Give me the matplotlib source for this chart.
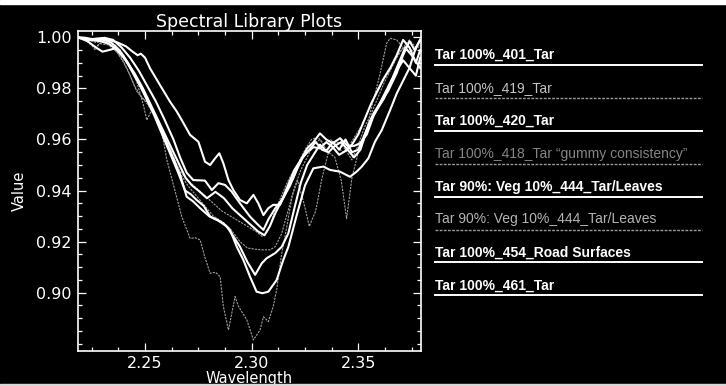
import matplotlib
matplotlib.use("Agg")
import matplotlib.pyplot as plt
from matplotlib.lines import Line2D
from matplotlib.patches import Rectangle
from matplotlib.ticker import MultipleLocator, FixedLocator, FormatStrFormatter

# ---- spectra (wavelength in micrometres, relative value) ----
wl_401 = [2.2184, 2.2230, 2.2280, 2.2330, 2.2370, 2.2410, 2.2440, 2.2465, 2.2480, 2.2500,
          2.2523, 2.2570, 2.2617, 2.2649, 2.2672, 2.2711, 2.2750, 2.2781, 2.2805, 2.2828,
          2.2848, 2.2867, 2.2891, 2.2914, 2.2945, 2.2977, 2.3008, 2.3031, 2.3055, 2.3078,
          2.3101, 2.3133, 2.3164, 2.3195, 2.3230, 2.3260, 2.3290, 2.3320, 2.3350, 2.3380,
          2.3414, 2.3453, 2.3480, 2.3508, 2.3540, 2.3570, 2.3600, 2.3640, 2.3680, 2.3710,
          2.3740, 2.3765, 2.3790]
val_401 = [1.000, 0.9995, 0.9992, 0.9990, 0.9980, 0.9965, 0.9945, 0.9930, 0.9936, 0.9920,
           0.9879, 0.9813, 0.9748, 0.9709, 0.9676, 0.9618, 0.9591, 0.9513, 0.9500, 0.9526,
           0.9546, 0.9507, 0.9441, 0.9402, 0.9363, 0.9350, 0.9383, 0.9350, 0.9304, 0.9331,
           0.9344, 0.9344, 0.9400, 0.9450, 0.9520, 0.9565, 0.9590, 0.9624, 0.9600, 0.9585,
           0.9605, 0.9572, 0.9575, 0.9585, 0.9620, 0.9689, 0.9740, 0.9790, 0.9860, 0.9930,
           0.9985, 0.9950, 0.9990]

wl_419 = [2.2184, 2.2230, 2.2270, 2.2310, 2.2350, 2.2390, 2.2420, 2.2450, 2.2480, 2.2510,
          2.2540, 2.2580, 2.2620, 2.2660, 2.2700, 2.2740, 2.2780, 2.2820, 2.2860, 2.2900,
          2.2940, 2.2980, 2.3020, 2.3050, 2.3075, 2.3100, 2.3130, 2.3160, 2.3190, 2.3220,
          2.3250, 2.3280, 2.3310, 2.3340, 2.3370, 2.3400, 2.3430, 2.3460, 2.3490, 2.3520,
          2.3550, 2.3580, 2.3610, 2.3640, 2.3670, 2.3700, 2.3730, 2.3760, 2.3790]
val_419 = [1.000, 0.9990, 0.9980, 0.9985, 0.9960, 0.9920, 0.9870, 0.9810, 0.9770, 0.9740,
           0.9700, 0.9630, 0.9550, 0.9480, 0.9440, 0.9410, 0.9380, 0.9350, 0.9320, 0.9300,
           0.9280, 0.9260, 0.9240, 0.9220, 0.9240, 0.9300, 0.9360, 0.9420, 0.9470, 0.9510,
           0.9560, 0.9600, 0.9610, 0.9580, 0.9600, 0.9570, 0.9550, 0.9580, 0.9620, 0.9660,
           0.9720, 0.9780, 0.9830, 0.9870, 0.9910, 0.9950, 0.9970, 0.9940, 0.9970]

wl_420 = [2.2184, 2.2230, 2.2270, 2.2310, 2.2350, 2.2390, 2.2430, 2.2470, 2.2510, 2.2550,
          2.2590, 2.2633, 2.2664, 2.2695, 2.2726, 2.2760, 2.2781, 2.2813, 2.2844, 2.2875,
          2.2906, 2.2945, 2.2992, 2.3031, 2.3055, 2.3080, 2.3110, 2.3148, 2.3180, 2.3210,
          2.3240, 2.3270, 2.3300, 2.3330, 2.3360, 2.3390, 2.3420, 2.3450, 2.3480, 2.3510,
          2.3540, 2.3570, 2.3600, 2.3630, 2.3660, 2.3690, 2.3720, 2.3750, 2.3790]
val_420 = [1.000, 0.9990, 0.9995, 0.9998, 0.9990, 0.9960, 0.9920, 0.9870, 0.9810, 0.9750,
           0.9680, 0.9600, 0.9530, 0.9470, 0.9441, 0.9440, 0.9439, 0.9402, 0.9429, 0.9422,
           0.9396, 0.9350, 0.9298, 0.9265, 0.9246, 0.9290, 0.9330, 0.9371, 0.9420, 0.9480,
           0.9530, 0.9560, 0.9590, 0.9560, 0.9550, 0.9575, 0.9590, 0.9560, 0.9530, 0.9560,
           0.9640, 0.9700, 0.9740, 0.9790, 0.9840, 0.9900, 0.9960, 0.9930, 0.9880]

wl_418 = [2.2184, 2.2220, 2.2250, 2.2266, 2.2285, 2.2320, 2.2360, 2.2400, 2.2430, 2.2461,
          2.2492, 2.2508, 2.2531, 2.2555, 2.2578, 2.2602, 2.2640, 2.2672, 2.2711, 2.2735,
          2.2758, 2.2780, 2.2805, 2.2830, 2.2852, 2.2867, 2.2891, 2.2922, 2.2938, 2.2977,
          2.3008, 2.3039, 2.3055, 2.3078, 2.3101, 2.3117, 2.3140, 2.3165, 2.3190, 2.3215,
          2.3245, 2.3270, 2.3300, 2.3330, 2.3360, 2.3390, 2.3420, 2.3445, 2.3470, 2.3500,
          2.3530, 2.3560, 2.3600, 2.3633, 2.3649, 2.3680, 2.3710, 2.3740, 2.3770, 2.3790]
val_418 = [1.000, 0.9990, 0.9970, 0.9950, 0.9975, 0.9985, 0.9970, 0.9930, 0.9880, 0.9826,
           0.9735, 0.9676, 0.9715, 0.9683, 0.9631, 0.9520, 0.9400, 0.9298, 0.9213, 0.9215,
           0.9207, 0.9140, 0.9076, 0.9080, 0.9063, 0.8946, 0.8854, 0.8985, 0.8946, 0.8894,
           0.8815, 0.8854, 0.8906, 0.8887, 0.8946, 0.9011, 0.9150, 0.9260, 0.9380, 0.9440,
           0.9350, 0.9260, 0.9320, 0.9450, 0.9550, 0.9530, 0.9440, 0.9290, 0.9450, 0.9550,
           0.9600, 0.9720, 0.9850, 0.9977, 0.9996, 0.9990, 0.9960, 0.9940, 0.9960, 0.9990]

wl_444b = [2.2184, 2.2240, 2.2290, 2.2330, 2.2370, 2.2410, 2.2450, 2.2490, 2.2530, 2.2570,
           2.2610, 2.2650, 2.2690, 2.2720, 2.2750, 2.2790, 2.2830, 2.2870, 2.2910, 2.2950,
           2.2990, 2.3030, 2.3060, 2.3085, 2.3110, 2.3140, 2.3170, 2.3200, 2.3230, 2.3260,
           2.3290, 2.3320, 2.3350, 2.3380, 2.3410, 2.3440, 2.3470, 2.3500, 2.3530, 2.3560,
           2.3590, 2.3620, 2.3650, 2.3680, 2.3710, 2.3740, 2.3770, 2.3790]
val_444b = [1.000, 0.9990, 0.9985, 0.9975, 0.9950, 0.9910, 0.9860, 0.9800, 0.9730, 0.9660,
            0.9590, 0.9520, 0.9450, 0.9420, 0.9400, 0.9370, 0.9395, 0.9370, 0.9330, 0.9300,
            0.9270, 0.9240, 0.9225, 0.9260, 0.9310, 0.9360, 0.9420, 0.9480, 0.9520, 0.9550,
            0.9570, 0.9565, 0.9590, 0.9570, 0.9540, 0.9555, 0.9580, 0.9620, 0.9680, 0.9740,
            0.9790, 0.9840, 0.9880, 0.9930, 0.9990, 0.9960, 0.9900, 0.9950]

wl_444t = [2.2184, 2.2220, 2.2260, 2.2290, 2.2330, 2.2370, 2.2400, 2.2430, 2.2460, 2.2490,
           2.2520, 2.2555, 2.2590, 2.2630, 2.2670, 2.2700, 2.2740, 2.2780, 2.2820, 2.2860,
           2.2900, 2.2945, 2.2980, 2.3020, 2.3047, 2.3086, 2.3110, 2.3140, 2.3170, 2.3200,
           2.3230, 2.3260, 2.3290, 2.3320, 2.3350, 2.3380, 2.3410, 2.3440, 2.3470, 2.3500,
           2.3530, 2.3560, 2.3590, 2.3620, 2.3650, 2.3680, 2.3710, 2.3740, 2.3770, 2.3790]
val_444t = [1.000, 0.9990, 0.9960, 0.9975, 0.9970, 0.9940, 0.9900, 0.9850, 0.9790, 0.9760,
            0.9740, 0.9690, 0.9620, 0.9540, 0.9460, 0.9420, 0.9380, 0.9340, 0.9300, 0.9280,
            0.9250, 0.9200, 0.9175, 0.9170, 0.9168, 0.9168, 0.9180, 0.9230, 0.9320, 0.9410,
            0.9480, 0.9530, 0.9580, 0.9600, 0.9560, 0.9580, 0.9590, 0.9560, 0.9520, 0.9580,
            0.9650, 0.9700, 0.9760, 0.9820, 0.9870, 0.9920, 0.9960, 0.9990, 0.9960, 0.9990]

wl_454 = [2.2184, 2.2220, 2.2260, 2.2300, 2.2340, 2.2380, 2.2420, 2.2460, 2.2500, 2.2540,
          2.2580, 2.2620, 2.2655, 2.2688, 2.2715, 2.2742, 2.2775, 2.2805, 2.2840, 2.2883,
          2.2915, 2.2945, 2.2980, 2.3016, 2.3047, 2.3070, 2.3110, 2.3141, 2.3172, 2.3200,
          2.3230, 2.3260, 2.3290, 2.3320, 2.3350, 2.3380, 2.3410, 2.3440, 2.3470, 2.3500,
          2.3530, 2.3560, 2.3590, 2.3620, 2.3650, 2.3680, 2.3710, 2.3740, 2.3770, 2.3790]
val_454 = [1.000, 0.9998, 0.9990, 0.9992, 0.9980, 0.9950, 0.9900, 0.9840, 0.9770, 0.9700,
           0.9620, 0.9540, 0.9470, 0.9400, 0.9385, 0.9363, 0.9340, 0.9298, 0.9285, 0.9259,
           0.9220, 0.9180, 0.9120, 0.9070, 0.9115, 0.9135, 0.9155, 0.9180, 0.9233, 0.9330,
           0.9430, 0.9500, 0.9540, 0.9580, 0.9555, 0.9590, 0.9560, 0.9600, 0.9550, 0.9560,
           0.9620, 0.9680, 0.9720, 0.9760, 0.9820, 0.9870, 0.9910, 0.9880, 0.9960, 0.9990]

wl_461 = [2.2184, 2.2230, 2.2270, 2.2300, 2.2330, 2.2360, 2.2398, 2.2430, 2.2470, 2.2510,
          2.2550, 2.2590, 2.2630, 2.2665, 2.2695, 2.2726, 2.2758, 2.2800, 2.2836, 2.2867,
          2.2898, 2.2930, 2.2961, 2.2992, 2.3023, 2.3050, 2.3078, 2.3117, 2.3148, 2.3172,
          2.3210, 2.3250, 2.3289, 2.3336, 2.3367, 2.3414, 2.3461, 2.3492, 2.3516, 2.3547,
          2.3578, 2.3610, 2.3649, 2.3680, 2.3710, 2.3740, 2.3770, 2.3790]
val_461 = [1.000, 0.9985, 0.9960, 0.9944, 0.9950, 0.9957, 0.9924, 0.9880, 0.9820, 0.9760,
           0.9690, 0.9610, 0.9530, 0.9460, 0.9376, 0.9357, 0.9331, 0.9300, 0.9285, 0.9272,
           0.9246, 0.9180, 0.9128, 0.9063, 0.9004, 0.8998, 0.9004, 0.9050, 0.9128, 0.9180,
           0.9300, 0.9420, 0.9487, 0.9494, 0.9481, 0.9474, 0.9454, 0.9474, 0.9494, 0.9526,
           0.9591, 0.9637, 0.9715, 0.9780, 0.9830, 0.9880, 0.9850, 0.9920]

labels = [
    "Tar 100%_401_Tar",
    "Tar 100%_419_Tar",
    "Tar 100%_420_Tar",
    "Tar 100%_418_Tar \u201cgummy consistency\u201d",
    "Tar 90%: Veg 10%_444_Tar/Leaves",
    "Tar 90%: Veg 10%_444_Tar/Leaves",
    "Tar 100%_454_Road Surfaces",
    "Tar 100%_461_Tar",
]
wavelengths = [wl_401, wl_419, wl_420, wl_418, wl_444b, wl_444t, wl_454, wl_461]
values = [val_401, val_419, val_420, val_418, val_444b, val_444t, val_454, val_461]
bold = [True, False, True, False, True, False, True, True]
text_colors = ["white", "#c4c4c4", "white", "#858585", "white", "#b4b4b4", "white", "white"]

x_range = (2.2183, 2.3794)
y_range = (0.8773, 1.0026)
y_labelled = [0.90, 0.92, 0.94, 0.96, 0.98, 1.00]

# ---- figure ----
W, H = 726, 386
fig = plt.figure(figsize=(W / 100, H / 100), dpi=100, facecolor="black")
ax = fig.add_axes([77.5 / W, 1 - 350.7 / H, (421 - 77.5) / W, (350.7 - 30.7) / H],
                  facecolor="black")

# thin spectra underneath, heavy ones on top
for wl, val, b in zip(wavelengths, values, bold):
    if not b:
        ax.plot(wl, val, color="#a0a0a0", lw=0.8, linestyle=(0, (2, 1)), zorder=2)
for wl, val, b in zip(wavelengths, values, bold):
    if b:
        ax.plot(wl, val, color="white", lw=1.5, solid_joinstyle="round", zorder=3)

ax.set_xlim(*x_range)
ax.set_ylim(*y_range)

ax.xaxis.set_major_locator(MultipleLocator(0.05))
ax.xaxis.set_minor_locator(MultipleLocator(0.0125))
ax.yaxis.set_major_locator(FixedLocator(y_labelled))
ax.yaxis.set_minor_locator(MultipleLocator(0.005))
ax.xaxis.set_major_formatter(FormatStrFormatter("%.2f"))
ax.yaxis.set_major_formatter(FormatStrFormatter("%.2f"))

for s in ax.spines.values():
    s.set_color("white")
    s.set_linewidth(1.2)
ax.tick_params(which="both", direction="in", colors="white", top=True, right=True,
               labelsize=11.5, width=0.9)
ax.tick_params(which="major", length=5.5, pad=4)
ax.tick_params(which="minor", length=3)

ax.set_title("Spectral Library Plots", color="white", fontsize=12.5, pad=3)
ax.set_xlabel("Wavelength", color="white", fontsize=10.5, labelpad=-0.5)
ax.set_ylabel("Value", color="white", fontsize=10.5, labelpad=7)

# ---- legend panel ----
leg_family = ["Liberation Sans", "DejaVu Sans"]
x0, x1 = 435, 702
for i, (lab, b, tc) in enumerate(zip(labels, bold, text_colors)):
    y_line = 65 + i * 32.9
    fig.text(x0 / W, 1 - (y_line - 6) / H, lab, color=tc, fontsize=10,
             fontweight="bold" if b else "normal", family=leg_family, va="baseline")
    if b:
        fig.add_artist(Line2D([x0 / W, x1 / W], [1 - y_line / H] * 2,
                              color="white", lw=1.4))
    else:
        fig.add_artist(Line2D([x0 / W, x1 / W], [1 - y_line / H] * 2,
                              color="#9a9a9a", lw=1.0, linestyle=(0, (2, 1))))

# paper edges at top and bottom of the sheet
fig.add_artist(Rectangle((0, 1 - 4 / H), 1, 4 / H, transform=fig.transFigure,
                         color="white", zorder=10))
fig.add_artist(Rectangle((0, 0), 1, 2.5 / H, transform=fig.transFigure,
                         color="#d8d8d8", zorder=10))

fig.savefig("out.png", dpi=100, facecolor="black")
